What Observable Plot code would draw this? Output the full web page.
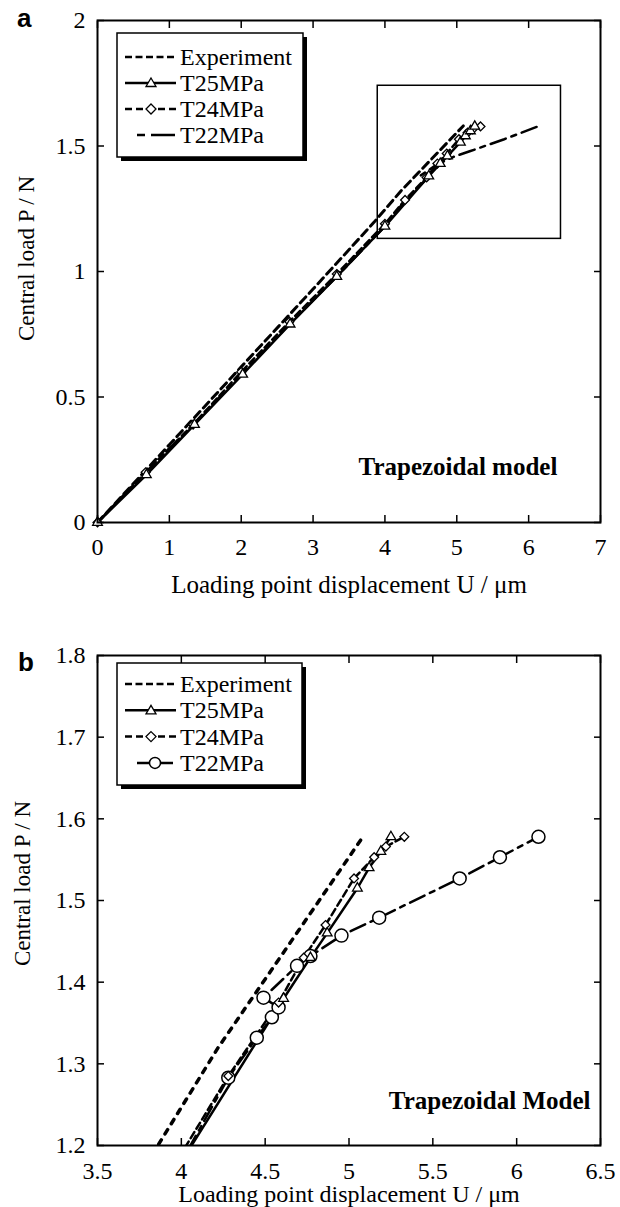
<!DOCTYPE html>
<html><head><meta charset="utf-8">
<script src="https://cdn.jsdelivr.net/npm/d3@7"></script>
<script src="https://cdn.jsdelivr.net/npm/@observablehq/plot@0.6"></script>
<style>
body{margin:0;background:#fff;}
#wrap{width:620px;}
#wrap svg{display:block;}
</style></head><body><div id="wrap"></div>
<script>
// ---------- data ----------
const seriesNames = ["Experiment", "T25MPa", "T24MPa", "T22MPa"];

const experimentU = [0, 1, 2, 3, 3.86, 4.22, 5.09];
const experimentP = [0, 0.31, 0.62, 0.93, 1.2, 1.32, 1.58];

const t25U = [0, 0.68, 1.35, 2.02, 2.68, 3.33, 4.0, 4.61, 4.77, 4.87, 5.05, 5.12, 5.19, 5.25];
const t25P = [0, 0.19, 0.39, 0.59, 0.79, 0.98, 1.18, 1.38, 1.43, 1.46, 1.515, 1.54, 1.56, 1.578];

const t24U = [0, 0.67, 1.33, 2.0, 2.67, 3.33, 4.0, 4.28, 4.58, 4.73, 4.86, 5.03, 5.15, 5.22, 5.33];
const t24P = [0, 0.2, 0.39, 0.6, 0.8, 0.99, 1.19, 1.285, 1.375, 1.43, 1.47, 1.527, 1.553, 1.566, 1.578];

const t22U = [0, 0.67, 1.33, 2.0, 2.67, 3.33, 4.0, 4.28, 4.45, 4.54, 4.58, 4.49, 4.69, 4.77, 4.955, 5.18, 5.66, 5.9, 6.13];
const t22P = [0, 0.2, 0.39, 0.59, 0.79, 0.98, 1.18, 1.283, 1.332, 1.357, 1.369, 1.381, 1.42, 1.432, 1.457, 1.479, 1.527, 1.553, 1.578];

const xTicksA = [0, 1, 2, 3, 4, 5, 6, 7];
const yTicksA = [0, 0.5, 1, 1.5, 2];
const xTicksB = [3.5, 4, 4.5, 5, 5.5, 6, 6.5];
const yTicksB = [1.2, 1.3, 1.4, 1.5, 1.6, 1.7, 1.8];

const insetBox = [{x1: 3.9, x2: 6.45, y1: 1.13, y2: 1.74}];
const noteA = [{x: 6.4, y: 0.223, label: "Trapezoidal model"}];
const noteB = [{x: 6.44, y: 1.254, label: "Trapezoidal Model"}];

const xTitle = "Loading point displacement U / μm";
const yTitle = "Central load P / N";

// ---------- helpers ----------
const SERIF = "'Liberation Serif', 'Times New Roman', Times, serif";
const SANS = "'Liberation Sans', Arial, sans-serif";
const pairs = (us, ps) => us.map((u, i) => ({u, p: ps[i]}));
const expData = pairs(experimentU, experimentP);
const t25Data = pairs(t25U, t25P);
const t24Data = pairs(t24U, t24P);
const t22Data = pairs(t22U, t22P);
const fmt = d => String(d);
const blank = () => "";

function axes(xt, yt, xPad) {
  return [
    Plot.axisX({ticks: xt, anchor: "bottom", tickSize: 0, tickPadding: xPad, tickFormat: fmt, label: null}),
    Plot.axisX({ticks: xt, anchor: "bottom", tickSize: 7, dy: -7, strokeWidth: 1.5, tickFormat: blank, label: null}),
    Plot.axisX({ticks: xt, anchor: "top", tickSize: 7, dy: 7, strokeWidth: 1.5, tickFormat: blank, label: null}),
    Plot.axisY({ticks: yt, anchor: "left", tickSize: 0, tickPadding: 12, tickFormat: fmt, label: null}),
    Plot.axisY({ticks: yt, anchor: "left", tickSize: 7, dx: 7, strokeWidth: 1.5, tickFormat: blank, label: null}),
    Plot.axisY({ticks: yt, anchor: "right", tickSize: 7, dx: -7, strokeWidth: 1.5, tickFormat: blank, label: null})
  ];
}

function drawLegend(svg, box, baseline0, gap, styles) {
  const g = d3.select(svg).append("g");
  g.append("rect").attr("x", box.x + 4).attr("y", box.y + 4).attr("width", box.w).attr("height", box.h).attr("fill", "#000");
  g.append("rect").attr("x", box.x).attr("y", box.y).attr("width", box.w).attr("height", box.h)
    .attr("fill", "#fff").attr("stroke", "#000").attr("stroke-width", 1.5);
  seriesNames.forEach((name, i) => {
    const by = box.y + baseline0 + i * gap;
    const ly = by - 8;
    const s = styles[i];
    g.append("line").attr("x1", s.x1).attr("x2", s.x2).attr("y1", ly).attr("y2", ly)
      .attr("stroke", "#000").attr("stroke-width", s.w).attr("stroke-dasharray", s.dash || null);
    const mx = 151;
    if (s.marker === "triangle") {
      g.append("path").attr("d", `M${mx},${ly - 5}L${mx + 5},${ly + 3.5}L${mx - 5},${ly + 3.5}Z`)
        .attr("fill", "#fff").attr("stroke", "#000").attr("stroke-width", 1.3);
    } else if (s.marker === "diamond") {
      g.append("path").attr("d", `M${mx},${ly - 5}L${mx + 5},${ly}L${mx},${ly + 5}L${mx - 5},${ly}Z`)
        .attr("fill", "#fff").attr("stroke", "#000").attr("stroke-width", 1.3);
    } else if (s.marker === "circle") {
      g.append("circle").attr("cx", 155).attr("cy", ly).attr("r", 5.5)
        .attr("fill", "#fff").attr("stroke", "#000").attr("stroke-width", 1.5);
    }
    g.append("text").attr("x", 180).attr("y", by).attr("text-anchor", "start")
      .attr("font-family", SERIF).attr("font-size", 24).attr("fill", "#000").text(name);
  });
}

function letter(svg, x, y, t) {
  d3.select(svg).append("text").attr("x", x).attr("y", y).attr("text-anchor", "start")
    .attr("font-family", SANS).attr("font-weight", "bold").attr("font-size", 26).attr("fill", "#000").text(t);
}

const lineCommon = {x: "u", y: "p", stroke: "#000", curve: "linear"};

// ---------- panel a ----------
const plotA = Plot.plot({
  width: 620, height: 605,
  marginTop: 20, marginLeft: 97, marginRight: 20, marginBottom: 83,
  x: {domain: [0, 7]}, y: {domain: [0, 2]},
  style: {fontFamily: SERIF, fontSize: "24px", color: "#000", background: "#fff", overflow: "visible"},
  marks: [
    ...axes(xTicksA, yTicksA, 15),
    Plot.rect(insetBox, {x1: "x1", x2: "x2", y1: "y1", y2: "y2", fill: "none", stroke: "#000", strokeWidth: 1.5}),
    Plot.line(expData, {...lineCommon, strokeWidth: 3, strokeDasharray: "8,5"}),
    Plot.line(t22Data, {...lineCommon, strokeWidth: 2.5, strokeDasharray: "16,6,5,6"}),
    Plot.line(t24Data, {...lineCommon, strokeWidth: 2.5, strokeDasharray: "7,4"}),
    Plot.line(t25Data, {...lineCommon, strokeWidth: 2.5}),
    Plot.dot(t24Data, {x: "u", y: "p", symbol: "diamond2", r: 4, fill: "#fff", stroke: "#000", strokeWidth: 1.3}),
    Plot.dot(t25Data, {x: "u", y: "p", symbol: "triangle", r: 3.6, fill: "#fff", stroke: "#000", strokeWidth: 1.3}),
    Plot.frame({stroke: "#000", strokeWidth: 2}),
    Plot.text(noteA, {x: "x", y: "y", text: "label", textAnchor: "end", fontWeight: "bold", fontSize: 25}),
    Plot.text([xTitle], {frameAnchor: "bottom", textAnchor: "middle", lineAnchor: "middle", dy: 62, fontSize: 25}),
    Plot.text([yTitle], {frameAnchor: "left", textAnchor: "middle", lineAnchor: "middle", dx: -71, dy: -13, rotate: -90, fontSize: 23})
  ]
});
drawLegend(plotA, {x: 117, y: 33, w: 186, h: 124}, 32, 26, [
  {x1: 125, x2: 176, w: 2.5, dash: "7,3.5"},
  {x1: 125, x2: 176, w: 2.5, marker: "triangle"},
  {x1: 125, x2: 176, w: 2.5, dash: "7,4", marker: "diamond"},
  {x1: 137, x2: 175, w: 2.5, dash: "8,6,24"}
]);
letter(plotA, 17, 27, "a");
document.getElementById("wrap").appendChild(plotA);

// ---------- panel b ----------
const plotB = Plot.plot({
  width: 620, height: 602,
  marginTop: 50, marginLeft: 97, marginRight: 20, marginBottom: 62,
  x: {domain: [3.5, 6.5]}, y: {domain: [1.2, 1.8]},
  style: {fontFamily: SERIF, fontSize: "24px", color: "#000", background: "#fff", overflow: "visible"},
  marks: [
    ...axes(xTicksB, yTicksB, 16),
    Plot.line(expData, {...lineCommon, strokeWidth: 3.5, strokeDasharray: "5,7", clip: true}),
    Plot.line(t22Data, {...lineCommon, strokeWidth: 2.5, strokeDasharray: "16,6,5,6", clip: true}),
    Plot.line(t24Data, {...lineCommon, strokeWidth: 2.5, strokeDasharray: "7,4", clip: true}),
    Plot.line(t25Data, {...lineCommon, strokeWidth: 2.5, clip: true}),
    Plot.dot(t22Data, {x: "u", y: "p", r: 6.5, fill: "#fff", stroke: "#000", strokeWidth: 1.5, clip: true}),
    Plot.dot(t24Data, {x: "u", y: "p", symbol: "diamond2", r: 4, fill: "#fff", stroke: "#000", strokeWidth: 1.3, clip: true}),
    Plot.dot(t25Data, {x: "u", y: "p", symbol: "triangle", r: 3.6, fill: "#fff", stroke: "#000", strokeWidth: 1.3, clip: true}),
    Plot.frame({stroke: "#000", strokeWidth: 2}),
    Plot.text(noteB, {x: "x", y: "y", text: "label", textAnchor: "end", fontWeight: "bold", fontSize: 25}),
    Plot.text([xTitle], {frameAnchor: "bottom", textAnchor: "middle", lineAnchor: "middle", dy: 49, fontSize: 24}),
    Plot.text([yTitle], {frameAnchor: "left", textAnchor: "middle", lineAnchor: "middle", dx: -75, dy: -17, rotate: -90, fontSize: 23})
  ]
});
drawLegend(plotB, {x: 117, y: 58, w: 185, h: 122}, 29, 26.3, [
  {x1: 125, x2: 176, w: 2.5, dash: "7,3.5"},
  {x1: 125, x2: 176, w: 2.5, marker: "triangle"},
  {x1: 125, x2: 176, w: 2.5, dash: "7,4", marker: "diamond"},
  {x1: 137, x2: 173, w: 2.5, marker: "circle"}
]);
letter(plotB, 18, 66, "b");
document.getElementById("wrap").appendChild(plotB);
</script>
</body></html>
